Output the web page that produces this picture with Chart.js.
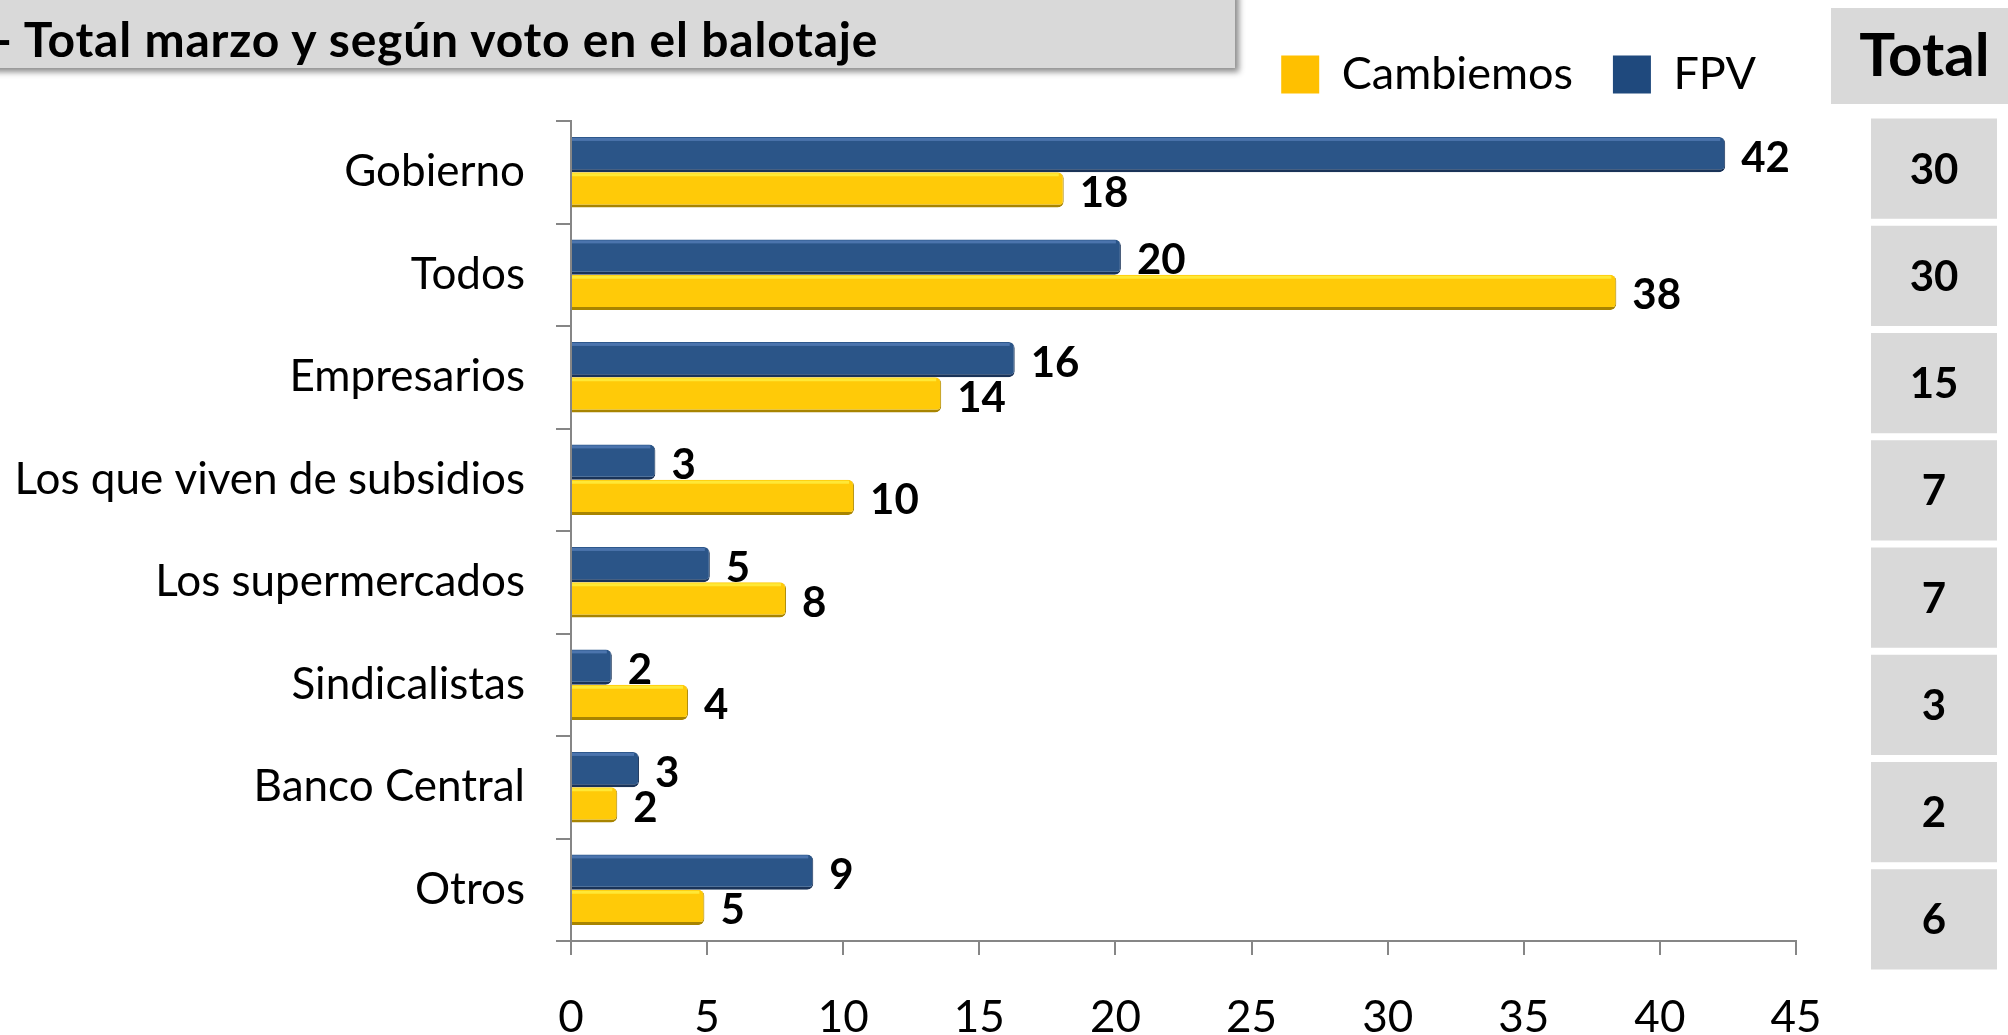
<!DOCTYPE html>
<html lang="es">
<head>
<meta charset="UTF-8">
<title>Total marzo y según voto en el balotaje</title>
<script src="https://cdn.jsdelivr.net/npm/chart.js@4.4.1/dist/chart.umd.min.js"></script>
<style>
  body { margin: 0; width: 2008px; height: 1035px; overflow: hidden; background: #fff; font-family: Lato, sans-serif; position: relative; }
  .header { position: absolute; left: -20px; top: -10px; width: 1255px; height: 78px; background: #d9d9d9; box-shadow: 4px 4px 6px rgba(0,0,0,0.45); z-index: 2; }
  .header span { position: absolute; left: 14px; top: 25px; font-weight: bold; font-size: 48px; line-height: 48px; letter-spacing: 0.8px; white-space: nowrap; color: #000; }
  .totalHead { position: absolute; left: 1831px; top: 8px; width: 177px; height: 96px; background: #d9d9d9; }
  .totalHead span { position: absolute; left: 10px; right: 0; top: 15px; text-align: center; font-weight: bold; font-size: 60px; line-height: 60px; color: #000; }
  #mainWrap { position: absolute; left: 0; top: 0; width: 1858px; height: 1035px; }
  #totalWrap { position: absolute; left: 1871px; top: 115px; width: 126px; height: 858px; }
</style>
</head>
<body>

<div class="header"><span>- Total marzo y según voto en el balotaje</span></div>
<div class="totalHead"><span>Total</span></div>

<div id="mainWrap"><canvas id="mainChart"></canvas></div>
<div id="totalWrap"><canvas id="totalChart"></canvas></div>

<script>
  const categories = ['Gobierno', 'Todos', 'Empresarios', 'Los que viven de subsidios',
    'Los supermercados', 'Sindicalistas', 'Banco Central', 'Otros']
  const fpvValues = [42.4, 20.2, 16.3, 3.1, 5.1, 1.5, 2.5, 8.9]
  const cambiemosValues = [18.1, 38.4, 13.6, 10.4, 7.9, 4.3, 1.7, 4.9]
  const totalValues = [30, 30, 15, 7, 7, 3, 2, 6]
  const xMin = 0
  const xMax = 45
  const xStep = 5

  const FONT = 'Lato, sans-serif'

  // a bit more room under the legend
  const legendGap = {
    id: 'legendGap',
    beforeInit (chart) {
      const fit = chart.legend.fit
      chart.legend.fit = function () {
        fit.bind(chart.legend)()
        this.height += 14
      }
    }
  }

  // thin light strip on top of each bar
  const barShine = {
    id: 'barShine',
    afterDatasetsDraw (chart) {
      const ctx = chart.ctx
      ctx.save()
      chart.data.datasets.forEach((ds, i) => {
        chart.getDatasetMeta(i).data.forEach(bar => {
          const p = bar.getProps(['x', 'y', 'base', 'height'], true)
          ctx.fillStyle = ds.shine
          ctx.fillRect(p.base, p.y - p.height / 2 + 1, Math.max(p.x - p.base - 5, 0), 3)
        })
      })
      ctx.restore()
    }
  }

  const barLabels = {
    id: 'barLabels',
    afterDatasetsDraw (chart) {
      const ctx = chart.ctx
      ctx.save()
      ctx.font = 'bold 42px ' + FONT
      ctx.fillStyle = '#000'
      ctx.textBaseline = 'alphabetic'
      ctx.textAlign = 'left'
      chart.data.datasets.forEach((ds, i) => {
        chart.getDatasetMeta(i).data.forEach((bar, j) => {
          ctx.fillText(Math.round(ds.data[j]), bar.x + 16, bar.y + 17)
        })
      })
      ctx.restore()
    }
  }

  new Chart(document.getElementById('mainChart'), {
    type: 'bar',
    data: {
      labels: categories,
      datasets: [{
        label: 'FPV',
        data: fpvValues,
        backgroundColor: '#2b5588',
        borderColor: '#1a3358',
        legendColor: '#1f497d',
        shine: 'rgba(90,130,190,0.7)'
      }, {
        label: 'Cambiemos',
        data: cambiemosValues,
        backgroundColor: '#ffca08',
        borderColor: '#a88400',
        legendColor: '#ffc000',
        shine: 'rgba(255,235,60,0.9)'
      }]
    },
    options: {
      indexAxis: 'y',
      responsive: true,
      maintainAspectRatio: false,
      animation: false,
      layout: { padding: { left: 0, right: 62, top: 12, bottom: 0 } },
      datasets: {
        bar: {
          categoryPercentage: 0.69,
          barPercentage: 1,
          borderWidth: { top: 0, right: 1, bottom: 3, left: 0 },
          borderRadius: { topLeft: 0, bottomLeft: 0, topRight: 6, bottomRight: 6 },
          borderSkipped: 'start'
        }
      },
      plugins: {
        legend: {
          position: 'top',
          align: 'end',
          reverse: true,
          labels: {
            font: { family: FONT, size: 45 },
            color: '#000',
            boxWidth: 38,
            boxHeight: 38,
            padding: 40,
            generateLabels (chart) {
              const items = Chart.defaults.plugins.legend.labels.generateLabels(chart)
              items.forEach(it => {
                it.fillStyle = chart.data.datasets[it.datasetIndex].legendColor
                it.lineWidth = 0
                it.strokeStyle = 'rgba(0,0,0,0)'
              })
              return items
            }
          }
        },
        tooltip: { enabled: false }
      },
      scales: {
        x: {
          min: xMin,
          max: xMax,
          ticks: { stepSize: xStep, color: '#000', font: { family: FONT, size: 44 }, padding: 36 },
          grid: { drawOnChartArea: false, tickLength: 14, color: '#868686', lineWidth: 2 },
          border: { color: '#868686', width: 2 },
          afterFit: s => { s.height = 94 }
        },
        y: {
          ticks: { color: '#000', font: { family: FONT, size: 44 }, padding: 31 },
          grid: { drawOnChartArea: false, tickLength: 15, color: '#868686', lineWidth: 2, offset: true },
          border: { color: '#868686', width: 2 },
          afterFit: s => { s.width = 571 }
        }
      }
    },
    plugins: [legendGap, barShine, barLabels]
  })

  // the "Total" column: one grey cell per row, on its own category scale
  const totalCells = {
    id: 'totalCells',
    afterDraw (chart) {
      const ctx = chart.ctx
      const y = chart.scales.y
      const a = chart.chartArea
      const rowH = y.getPixelForValue(1) - y.getPixelForValue(0)
      ctx.save()
      totalValues.forEach((v, i) => {
        const cy = y.getPixelForValue(i)
        ctx.fillStyle = '#d9d9d9'
        ctx.fillRect(a.left, cy - rowH / 2 + 3.5, a.right - a.left, rowH - 7)
        ctx.fillStyle = '#000'
        ctx.font = 'bold 42px ' + FONT
        ctx.textAlign = 'center'
        ctx.textBaseline = 'alphabetic'
        ctx.fillText(v, (a.left + a.right) / 2, cy + 15)
      })
      ctx.restore()
    }
  }

  new Chart(document.getElementById('totalChart'), {
    type: 'bar',
    data: { labels: categories, datasets: [] },
    options: {
      indexAxis: 'y',
      responsive: true,
      maintainAspectRatio: false,
      animation: false,
      layout: { padding: 0 },
      plugins: { legend: { display: false }, tooltip: { enabled: false } },
      scales: {
        x: { type: 'linear', display: false, min: 0, max: 1 },
        y: { type: 'category', display: false, offset: true }
      }
    },
    plugins: [totalCells]
  })
</script>
</body>
</html>
